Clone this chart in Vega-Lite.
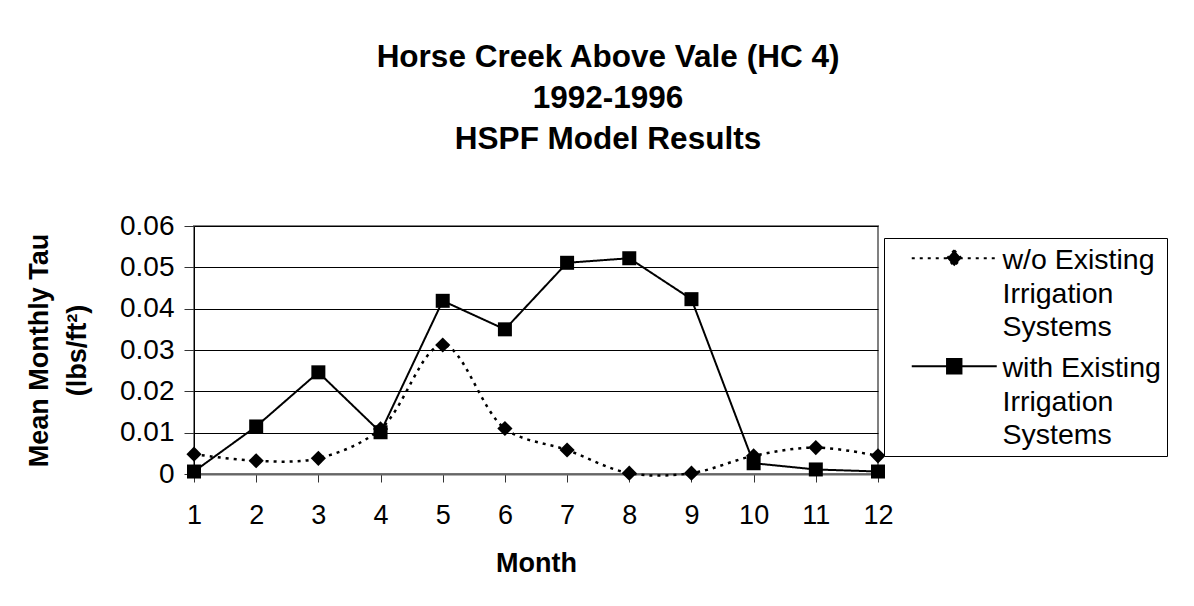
{
  "$schema": "https://vega.github.io/schema/vega-lite/v6.json",
  "width": 684,
  "height": 248,
  "autosize": {"type": "none"},
  "padding": {"left": 194, "top": 226, "right": 316, "bottom": 132},
  "background": "white",
  "config": {
    "font": "Liberation Sans",
    "view": {"stroke": "#808080", "strokeWidth": 2}
  },
  "title": {
    "text": ["Horse Creek Above Vale (HC 4)", "1992-1996", "HSPF Model Results"],
    "fontSize": 31.5,
    "fontWeight": "bold",
    "lineHeight": 41,
    "anchor": "middle",
    "frame": "group",
    "dx": 72,
    "baseline": "bottom",
    "offset": 25,
    "color": "black"
  },
  "data": {
    "values": [
      {"month": 1, "series": "w/o Existing Irrigation Systems", "tau": 0.0048},
      {"month": 2, "series": "w/o Existing Irrigation Systems", "tau": 0.0032},
      {"month": 3, "series": "w/o Existing Irrigation Systems", "tau": 0.0038},
      {"month": 4, "series": "w/o Existing Irrigation Systems", "tau": 0.0109},
      {"month": 5, "series": "w/o Existing Irrigation Systems", "tau": 0.0312},
      {"month": 6, "series": "w/o Existing Irrigation Systems", "tau": 0.011},
      {"month": 7, "series": "w/o Existing Irrigation Systems", "tau": 0.0058},
      {"month": 8, "series": "w/o Existing Irrigation Systems", "tau": 0.0002},
      {"month": 9, "series": "w/o Existing Irrigation Systems", "tau": 0.0002},
      {"month": 10, "series": "w/o Existing Irrigation Systems", "tau": 0.0044},
      {"month": 11, "series": "w/o Existing Irrigation Systems", "tau": 0.0064},
      {"month": 12, "series": "w/o Existing Irrigation Systems", "tau": 0.0044},
      {"month": 1, "series": "with Existing Irrigation Systems", "tau": 0.0006},
      {"month": 2, "series": "with Existing Irrigation Systems", "tau": 0.0115},
      {"month": 3, "series": "with Existing Irrigation Systems", "tau": 0.0246},
      {"month": 4, "series": "with Existing Irrigation Systems", "tau": 0.0101},
      {"month": 5, "series": "with Existing Irrigation Systems", "tau": 0.0419},
      {"month": 6, "series": "with Existing Irrigation Systems", "tau": 0.035},
      {"month": 7, "series": "with Existing Irrigation Systems", "tau": 0.0511},
      {"month": 8, "series": "with Existing Irrigation Systems", "tau": 0.0522},
      {"month": 9, "series": "with Existing Irrigation Systems", "tau": 0.0423},
      {"month": 10, "series": "with Existing Irrigation Systems", "tau": 0.0026},
      {"month": 11, "series": "with Existing Irrigation Systems", "tau": 0.0011},
      {"month": 12, "series": "with Existing Irrigation Systems", "tau": 0.0006}
    ]
  },
  "encoding": {
    "x": {
      "field": "month",
      "type": "quantitative",
      "scale": {"domain": [1, 12], "nice": false, "zero": false},
      "axis": {
        "title": "Month",
        "values": [1, 2, 3, 4, 5, 6, 7, 8, 9, 10, 11, 12],
        "format": "d",
        "grid": false,
        "labelFontSize": 27,
        "labelColor": "black",
        "labelPadding": 20,
        "labelFlush": false,
        "tickSize": 8,
        "tickColor": "#333333",
        "tickWidth": 1,
        "domainColor": "#666666",
        "domainWidth": 2,
        "titleFontSize": 27,
        "titleFontWeight": "bold",
        "titleColor": "black",
        "titlePadding": 22
      }
    },
    "y": {
      "field": "tau",
      "type": "quantitative",
      "scale": {"domain": [0, 0.06], "nice": false},
      "axis": {
        "title": ["Mean Monthly Tau", "(lbs/ft²)"],
        "values": [0, 0.01, 0.02, 0.03, 0.04, 0.05, 0.06],
        "format": ".2~f",
        "grid": true,
        "gridColor": "black",
        "gridWidth": 1,
        "gridOpacity": 1,
        "labelFontSize": 28,
        "labelColor": "black",
        "labelPadding": 10,
        "labelFlush": false,
        "tickSize": 10,
        "tickColor": "#333333",
        "domainColor": "black",
        "domainWidth": 1,
        "titleFontSize": 27,
        "titleFontWeight": "bold",
        "titleColor": "black",
        "titleLineHeight": 38,
        "titleBaseline": "bottom",
        "titlePadding": 28
      }
    }
  },
  "layer": [
    {
      "transform": [{"filter": "datum.series === 'w/o Existing Irrigation Systems'"}],
      "mark": {"type": "line", "color": "black", "strokeWidth": 2.5, "interpolate": "catmull-rom"},
      "encoding": {
        "strokeDash": {
          "field": "series",
          "type": "nominal",
          "scale": {
            "domain": ["w/o Existing Irrigation Systems", "with Existing Irrigation Systems"],
            "range": [[3, 5], [1, 0]]
          },
          "legend": {
            "title": null,
            "orient": "none",
            "legendX": 690,
            "legendY": 12,
            "strokeColor": "black",
            "fillColor": "white",
            "padding": 6,
            "symbolSize": 400,
            "symbolStrokeWidth": 2,
            "symbolStrokeColor": "black",
            "symbolFillColor": "black",
            "symbolOffset": 50,
            "labelFontSize": 28.5,
            "labelColor": "black",
            "labelOffset": 34,
            "labelLimit": 400,
            "labelBaseline": "top",
            "rowPadding": 10,
            "labelExpr": "datum.value === 'w/o Existing Irrigation Systems' ? ['w/o Existing', 'Irrigation', 'Systems'] : ['with Existing', 'Irrigation', 'Systems']",
            "encode": {
              "symbols": {
                "update": {
                  "shape": {"signal": "datum.value === 'w/o Existing Irrigation Systems' ? 'M-4.25,0H4.25M0,-0.8L0.72,0L0,0.8L-0.72,0Z' : 'M-4.25,0H4.25M-0.72,-0.72H0.72V0.72H-0.72Z'"},
                  "fill": {"value": "black"},
                  "stroke": {"value": "black"}
                }
              },
              "labels": {
                "update": {"lineHeight": {"value": 33.5}, "dy": {"value": -12}}
              }
            }
          }
        }
      }
    },
    {
      "transform": [{"filter": "datum.series === 'with Existing Irrigation Systems'"}],
      "mark": {"type": "line", "color": "black", "strokeWidth": 2},
      "encoding": {
        "strokeDash": {
          "field": "series",
          "type": "nominal",
          "scale": {
            "domain": ["w/o Existing Irrigation Systems", "with Existing Irrigation Systems"],
            "range": [[3, 5], [1, 0]]
          }
        }
      }
    },
    {
      "transform": [{"filter": "datum.series === 'w/o Existing Irrigation Systems'"}],
      "mark": {"type": "point", "shape": "diamond", "filled": true, "color": "black", "opacity": 1, "size": 230}
    },
    {
      "transform": [{"filter": "datum.series === 'with Existing Irrigation Systems'"}],
      "mark": {"type": "point", "shape": "square", "filled": true, "color": "black", "opacity": 1, "size": 196}
    }
  ]
}
